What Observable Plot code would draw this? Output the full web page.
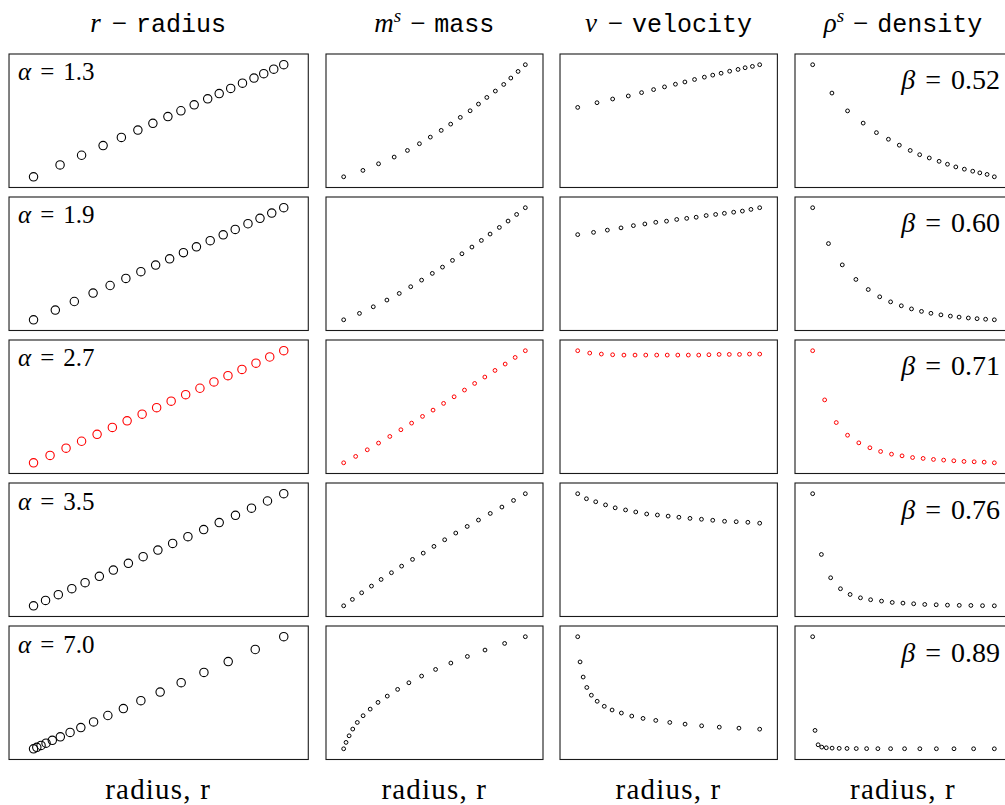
<!DOCTYPE html>
<html>
<head>
<meta charset="utf-8">
<script src="https://cdn.jsdelivr.net/npm/d3@7"></script>
<script src="https://cdn.jsdelivr.net/npm/@observablehq/plot@0.6"></script>
<style>
  html, body { margin: 0; padding: 0; background: #fff; overflow: hidden; }
  #fig { position: relative; width: 1005px; height: 805px; overflow: hidden; background: #fff; }
  .panel { position: absolute; }
  .panel svg { display: block; max-width: none; }
  #overlay { position: absolute; left: 0; top: 0; pointer-events: none; }
</style>
</head>
<body>
<div id="fig"></div>
<script>
// ---------- data ----------
const alphaLabels = ["1.3", "1.9", "2.7", "3.5", "7.0"];
const betaLabels  = ["0.52", "0.60", "0.71", "0.76", "0.89"];
const highlightedRow = 2;   // α = 2.7 drawn in red

const columnTitles = [
  { sym: "r",   sup: null, word: "radius" },
  { sym: "m",   sup: "s",  word: "mass" },
  { sym: "v",   sup: null, word: "velocity" },
  { sym: "ρ",   sup: "s",  word: "density" }
];
const xLabel = "radius, r";

// radius of each of the 18 shells (relative units), one array per α
const radiusA13 = [0, 0.106, 0.192, 0.278, 0.351, 0.417, 0.477, 0.537, 0.589, 0.642, 0.696, 0.742, 0.788, 0.835, 0.881, 0.920, 0.960, 1.0];
const radiusA19 = [0, 0.087, 0.163, 0.238, 0.306, 0.369, 0.429, 0.488, 0.544, 0.599, 0.651, 0.706, 0.758, 0.806, 0.857, 0.905, 0.952, 1.0];
const radiusA27 = [0, 0.066, 0.130, 0.192, 0.254, 0.315, 0.374, 0.434, 0.492, 0.550, 0.608, 0.665, 0.721, 0.777, 0.833, 0.889, 0.944, 1.0];
const radiusA35 = [0, 0.048, 0.099, 0.153, 0.206, 0.263, 0.319, 0.379, 0.438, 0.497, 0.556, 0.617, 0.680, 0.742, 0.807, 0.871, 0.935, 1.0];
const radiusA70 = [0, 0.013, 0.030, 0.050, 0.075, 0.107, 0.146, 0.189, 0.240, 0.297, 0.359, 0.429, 0.506, 0.590, 0.681, 0.778, 0.886, 1.0];

// enclosed mass of each shell (relative units), same in every row
const massShells = [0, 0.057, 0.116, 0.176, 0.235, 0.295, 0.354, 0.414, 0.470, 0.530, 0.589, 0.649, 0.708, 0.765, 0.824, 0.881, 0.940, 1.0];

// velocity (relative to the row maximum, axis from 0)
const velocityA13 = [0.619, 0.661, 0.694, 0.721, 0.751, 0.778, 0.802, 0.826, 0.846, 0.868, 0.889, 0.907, 0.924, 0.942, 0.958, 0.973, 0.985, 1.0];
const velocityA19 = [0.760, 0.780, 0.800, 0.820, 0.840, 0.855, 0.870, 0.880, 0.895, 0.905, 0.915, 0.930, 0.940, 0.950, 0.960, 0.970, 0.985, 1.0];
const velocityA27 = [1.0, 0.979, 0.970, 0.964, 0.961, 0.961, 0.961, 0.961, 0.961, 0.961, 0.961, 0.961, 0.964, 0.967, 0.967, 0.967, 0.970, 0.970];
const velocityA35 = [1.0, 0.955, 0.928, 0.900, 0.874, 0.855, 0.837, 0.819, 0.810, 0.800, 0.790, 0.780, 0.772, 0.763, 0.754, 0.750, 0.745, 0.737];
const velocityA70 = [1.0, 0.775, 0.640, 0.547, 0.478, 0.424, 0.379, 0.346, 0.319, 0.292, 0.271, 0.253, 0.235, 0.220, 0.205, 0.193, 0.184, 0.175];

// density (relative units)
const densityA13 = [1, 0.747, 0.588, 0.479, 0.394, 0.335, 0.282, 0.235, 0.197, 0.168, 0.138, 0.112, 0.088, 0.068, 0.050, 0.035, 0.021, 0];
const densityA19 = [1, 0.680, 0.490, 0.360, 0.270, 0.205, 0.160, 0.125, 0.097, 0.075, 0.058, 0.044, 0.033, 0.024, 0.016, 0.010, 0.005, 0];
const densityA27 = [1, 0.561, 0.359, 0.246, 0.178, 0.134, 0.101, 0.077, 0.062, 0.047, 0.039, 0.030, 0.024, 0.018, 0.012, 0.009, 0.006, 0];
const densityA35 = [1, 0.458, 0.250, 0.152, 0.101, 0.071, 0.054, 0.042, 0.030, 0.024, 0.018, 0.012, 0.009, 0.006, 0.004, 0.003, 0.001, 0];
const densityA70 = [1, 0.164, 0.036, 0.015, 0.009, 0.006, 0.004, 0.003, 0.002, 0.0015, 0.001, 0.0008, 0.0006, 0.0004, 0.0003, 0.0002, 0.0001, 0];

const radiusRows   = [radiusA13, radiusA19, radiusA27, radiusA35, radiusA70];
const velocityRows = [velocityA13, velocityA19, velocityA27, velocityA35, velocityA70];
const densityRows  = [densityA13, densityA19, densityA27, densityA35, densityA70];

// ---------- layout ----------
const colLeft  = [8, 325.3, 559.3, 794];
const colWidth = [300.3, 218, 218.4, 218];
const rowTop   = [52.7, 195.8, 338.9, 482, 625];
const panelH   = 134.5;

const fig = document.getElementById("fig");

function padded(vals, fromZero) {
  let [a, b] = d3.extent(vals);
  if (fromZero) a = 0;
  const p = (b - a) * 0.1;
  return [a - p, b + p];
}

function panel(xs, ys, opts) {
  const data = xs.map((x, i) => ({ x, y: ys[i] }));
  return Plot.plot({
    width: opts.w,
    height: panelH,
    margin: 0,
    style: { background: "white", overflow: "visible" },
    x: { domain: padded(xs), axis: null },
    y: { domain: padded(ys, opts.zero), axis: null },
    marks: [
      Plot.frame({ stroke: "#1a1a1a", strokeWidth: 1.1, inset: 0.5 }),
      Plot.dot(data, { x: "x", y: "y", r: opts.r, stroke: opts.color, strokeWidth: opts.sw, fill: "none" })
    ]
  });
}

for (let row = 0; row < 5; row++) {
  const color = row === highlightedRow ? "#ff0000" : "#000000";
  const rr = radiusRows[row];
  const series = [rr, massShells, velocityRows[row], densityRows[row]];
  for (let col = 0; col < 4; col++) {
    const div = document.createElement("div");
    div.className = "panel";
    div.style.left = colLeft[col] + "px";
    div.style.top = rowTop[row] + "px";
    div.style.width = colWidth[col] + "px";
    div.style.height = panelH + "px";
    div.appendChild(panel(rr, series[col], {
      w: colWidth[col],
      r: col === 0 ? 4.2 : 1.9,
      sw: col === 0 ? 1.1 : 1.0,
      color,
      zero: col === 2
    }));
    fig.appendChild(div);
  }
}

// ---------- text overlay ----------
const svg = d3.select(fig).append("svg")
  .attr("id", "overlay").attr("width", 1005).attr("height", 805);

const serif = "'Liberation Serif', 'Times New Roman', serif";
const mono = "'Liberation Mono', 'DejaVu Sans Mono', monospace";

columnTitles.forEach((t, col) => {
  const cx = colLeft[col] + colWidth[col] / 2;
  const txt = svg.append("text")
    .attr("x", cx).attr("y", 32)
    .attr("text-anchor", "middle")
    .attr("fill", "#000");
  txt.append("tspan").attr("font-family", serif).attr("font-style", "italic").attr("font-size", 27).text(t.sym);
  if (t.sup) {
    txt.append("tspan").attr("font-family", serif).attr("font-style", "italic").attr("font-size", 19).attr("dy", -10).text(t.sup);
    txt.append("tspan").attr("font-family", serif).attr("font-size", 27).attr("dy", 10).attr("dx", 9).text("−");
  } else {
    txt.append("tspan").attr("font-family", serif).attr("font-size", 27).attr("dx", 11).text("−");
  }
  txt.append("tspan").attr("font-family", mono).attr("font-size", 25).attr("font-weight", 500)
    .attr("dx", 9).text(t.word);

  svg.append("text")
    .attr("x", cx).attr("y", 799)
    .attr("text-anchor", "middle")
    .attr("font-family", serif).attr("font-size", 29)
    .attr("letter-spacing", 1.2)
    .attr("fill", "#000")
    .text(xLabel);
});

alphaLabels.forEach((a, row) => {
  const t = svg.append("text")
    .attr("x", colLeft[0] + 10).attr("y", rowTop[row] + 27.5)
    .attr("font-family", serif).attr("font-size", 25).attr("fill", "#000");
  t.append("tspan").attr("font-style", "italic").text("α");
  t.append("tspan").attr("dx", 9).text("=");
  t.append("tspan").attr("dx", 9).text(a);
});

betaLabels.forEach((b, row) => {
  const t = svg.append("text")
    .attr("x", 1000).attr("y", rowTop[row] + 36.5)
    .attr("text-anchor", "end")
    .attr("font-family", serif).attr("font-size", 28).attr("fill", "#000");
  t.append("tspan").attr("font-style", "italic").text("β");
  t.append("tspan").attr("dx", 10).text("=");
  t.append("tspan").attr("dx", 10).text(b);
});
</script>
</body>
</html>
